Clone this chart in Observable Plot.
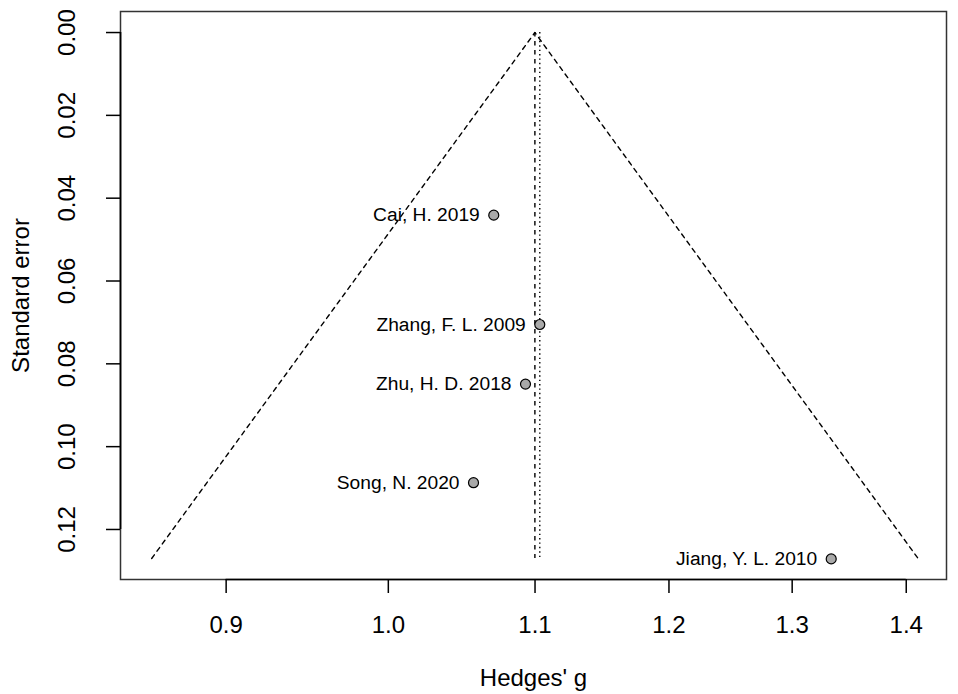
<!DOCTYPE html>
<html>
<head>
<meta charset="utf-8">
<script src="https://cdn.jsdelivr.net/npm/d3@7"></script>
<script src="https://cdn.jsdelivr.net/npm/@observablehq/plot@0.6"></script>
<style>
  html, body { margin: 0; padding: 0; background: white; }
</style>
</head>
<body>
<div id="chart"></div>
<script>
// Study data
const studies = ["Cai, H. 2019", "Zhang, F. L. 2009", "Zhu, H. D. 2018", "Song, N. 2020", "Jiang, Y. L. 2010"];
const effects = [1.0709, 1.1034, 1.0932, 1.0569, 1.3334];
const stdErrors = [0.0441, 0.0705, 0.0849, 0.1087, 0.1271];

// Pooled estimates
const commonEstimate = 1.0999;
const randomEstimate = 1.1034;
const maxSE = 0.1270;

// Funnel outline vertices (pseudo 95% CI)
const funnelX = [0.8575, 1.0999, 1.4108];
const funnelSE = [0.1270, 0.0, 0.1270];

// Axis ticks
const xTicks = [0.9, 1.0, 1.1, 1.2, 1.3, 1.4];
const yTicks = [0.00, 0.02, 0.04, 0.06, 0.08, 0.10, 0.12];

// Scale domains
const xDomain = [0.8403, 1.4371];
const yDomain = [-0.00508, 0.13208];

const points = studies.map((s, i) => ({study: s, g: effects[i], se: stdErrors[i]}));
const funnel = funnelX.map((x, i) => ({x, se: funnelSE[i]}));

const font = "'Liberation Sans', Arial, Helvetica, sans-serif";

const chart = Plot.plot({
  width: 958,
  height: 694,
  marginLeft: 120,
  marginRight: 12,
  marginTop: 11,
  marginBottom: 115,
  style: {fontFamily: font, fontSize: "24px", background: "white", color: "black"},
  x: {type: "log", domain: xDomain},
  y: {domain: yDomain, reverse: true},
  marks: [
    Plot.frame({stroke: "#333", strokeWidth: 1.5}),
    Plot.ruleY([yDomain[1]], {x1: xTicks[0], x2: xTicks[xTicks.length - 1], stroke: "black", strokeWidth: 1.7}),
    Plot.ruleX([xDomain[0]], {y1: yTicks[0], y2: yTicks[yTicks.length - 1], stroke: "black", strokeWidth: 1.7}),
    Plot.axisX(xTicks, {
      tickSize: 14, strokeWidth: 1.5, tickFormat: () => "", fontSize: 24,
      label: "Hedges' g", labelAnchor: "center", labelArrow: "none", labelOffset: 106
    }),
    Plot.text(xTicks, {
      x: (d) => d, frameAnchor: "bottom", dy: 46, lineAnchor: "middle",
      text: (d) => d.toFixed(1), fontSize: 24, fill: "black"
    }),
    Plot.axisY(yTicks, {
      tickSize: 14, strokeWidth: 1.5, tickFormat: () => "", label: null
    }),
    Plot.axisY(yTicks, {
      tickSize: 0, tickPadding: 53,
      tickFormat: (d) => d.toFixed(2), fontSize: 24,
      rotate: -90, textAnchor: "middle",
      label: "Standard error", labelAnchor: "center", labelArrow: "none", labelOffset: 109
    }),
    Plot.line(funnel, {x: "x", y: "se", stroke: "black", strokeWidth: 1.4, strokeDasharray: "4.5,4.5"}),
    Plot.ruleX([commonEstimate], {y1: 0, y2: maxSE, stroke: "black", strokeWidth: 1.4, strokeDasharray: "4.5,4.5"}),
    Plot.ruleX([randomEstimate], {y1: 0, y2: maxSE, stroke: "black", strokeWidth: 1.4, strokeDasharray: "1.4,3"}),
    Plot.dot(points, {x: "g", y: "se", r: 5, fill: "#a9a9a9", stroke: "black", strokeWidth: 1.2}),
    Plot.text(points, {x: "g", y: "se", text: "study", textAnchor: "end", dx: -14, fontSize: 19.2, fill: "black"})
  ]
});

document.getElementById("chart").appendChild(chart);
</script>
</body>
</html>
